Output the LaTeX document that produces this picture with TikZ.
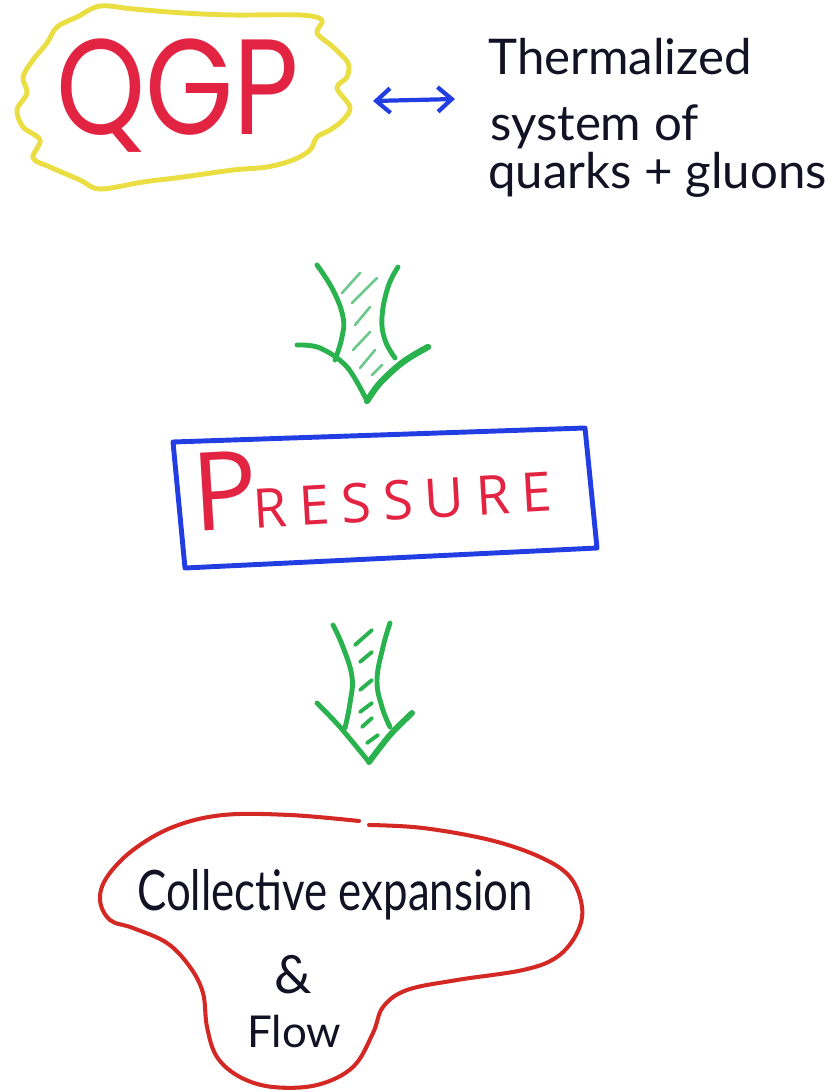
\documentclass[tikz,border=0pt]{standalone}
\usepackage{fontspec}
\setmainfont{Lato}
\newfontfamily\qgpfont{Poppins}
\newfontfamily\presfont{Open Sans}[LetterSpace=22]
\usetikzlibrary{arrows.meta}
\definecolor{yblob}{RGB}{234,222,66}
\definecolor{redtxt}{RGB}{226,36,66}
\definecolor{bluepen}{RGB}{34,62,226}
\definecolor{greenpen}{RGB}{42,178,78}
\definecolor{greenlight}{RGB}{110,200,140}
\definecolor{inkblack}{RGB}{18,18,36}
\definecolor{redblob}{RGB}{212,40,36}
\tikzset{
  yellowline/.style={draw=yblob, line width=2.8pt, line join=round},
  blueline/.style={draw=bluepen, line width=2.8pt, line join=round, line cap=round},
  redline/.style={draw=redblob, line width=2.3pt, line cap=round},
  greenline/.style={draw=greenpen, line width=2.8pt, line cap=round, line join=round},
  hatchA/.style={draw=greenlight, line width=1.5pt, line cap=round},
  hatchB/.style={draw=greenpen, line width=2.2pt, line cap=round},
  hand/.style={text=inkblack, inner sep=0pt},
  bluearrow/.style={draw=bluepen, line width=2.4pt, line cap=round,
    arrows={Straight Barb[length=8pt,width=14pt,line width=2.4pt]-Straight Barb[length=8pt,width=14pt,line width=2.4pt]}}
}
\begin{document}
\begin{tikzpicture}[x=0.02cm,y=-0.02cm]
\useasboundingbox (0,0) rectangle (839,1092);

% yellow wavy blob round QGP
\draw[yellowline] plot[smooth cycle, tension=0.55] coordinates {
 (100,6) (133,9) (183,13) (233,15) (300,15) (322,20) (317,33) (333,47)
 (348,63) (347,77) (337,88) (350,107) (343,120) (330,130) (317,137)
 (310,150) (293,160) (267,167) (233,170) (183,177) (143,182) (100,189)
 (80,180) (50,167) (33,158) (40,140) (23,127) (17,110) (27,93) (23,77)
 (33,60) (47,43) (57,27) (77,17)};
\node[text=redtxt, inner sep=0pt, anchor=base west] (qgp) at (56,134)
  {\scalebox{0.86}[1.03]{\qgpfont\fontsize{75}{75}\selectfont QGP}};

% blue double arrow
\coordinate (al) at (373,101);
\coordinate (ar) at (455,99);
\draw[bluearrow] (al) -- (ar);

% thermalized text
\node[hand, anchor=base west] (t1) at (488,74) {\fontsize{28}{28}\selectfont Thermalized};
\node[hand, anchor=base west] (t2) at (490,140) {\fontsize{28}{28}\selectfont system of};
\node[hand, anchor=base west] (t3) at (488,188) {\fontsize{28}{28}\selectfont quarks + gluons};

% green arrow 1
\draw[greenline] plot[smooth, tension=0.7] coordinates {(317,265) (333,290) (343,317) (342,337) (335,360)};
\draw[greenline] plot[smooth, tension=0.7] coordinates {(398,267) (388,287) (382,317) (385,340) (395,358)};
\draw[greenline] plot[smooth, tension=0.6] coordinates {(297,345) (320,348) (347,367) (367,401)};
\draw[greenline, line width=3.6pt] plot[smooth, tension=0.6] coordinates {(367,401) (380,383) (403,362) (428,347)};
\draw[hatchA] (342,293) -- (360,273);
\draw[hatchA] (352,303) -- (377,278);
\draw[hatchA] (355,325) -- (370,307);
\draw[hatchA] (353,350) -- (370,332);
\draw[hatchA] (360,368) -- (375,350);
\draw[hatchA] (372,375) -- (382,365);

% blue box with PRESSURE
\draw[blueline] (173,442) -- (585,428) -- (597,548) -- (185,568) -- cycle;
\node[text=redtxt, inner sep=0pt, anchor=base west, rotate=3.4] (pres) at (194,532)
  {\presfont\fontsize{62}{62}\selectfont P\hspace{-3pt}\fontsize{31}{31}\selectfont RESSURE};

% green arrow 2
\draw[greenline] plot[smooth, tension=0.7] coordinates {(333,625) (343,647) (352,677) (350,703) (345,728)};
\draw[greenline] plot[smooth, tension=0.7] coordinates {(390,623) (383,647) (377,680) (382,707) (390,727)};
\draw[greenline] plot[smooth, tension=0.5] coordinates {(317,703) (340,727) (369,762)};
\draw[greenline, line width=3.4pt] plot[smooth, tension=0.5] coordinates {(369,762) (390,735) (412,713)};
\draw[hatchB] (355,645) -- (372,630);
\draw[hatchB] (360,662) -- (372,652);
\draw[hatchB] (360,690) -- (372,680);
\draw[hatchB] (360,712) -- (372,703);
\draw[hatchB] (362,727) -- (372,718);
\draw[hatchB] (367,743) -- (378,735);

% red blob
\draw[redline] plot[smooth, tension=0.6] coordinates {
 (369,825) (423,828) (490,840) (540,857) (570,877) (582,907) (577,933)
 (557,957) (523,970) (457,980) (407,990) (383,1007) (373,1033) (353,1067)
 (317,1085) (273,1087) (240,1077) (217,1057) (207,1027) (203,993)
 (190,967) (167,943) (133,928) (110,920) (100,900) (107,877) (133,850)
 (173,827) (223,815) (290,815) (359,821)};
\node[hand, anchor=base west] (coll) at (137,910)
  {\scalebox{1.06}[1.35]{\fontsize{23.5}{23.5}\selectfont Collective expansion}};
\node[hand, anchor=base] (amp) at (293,993) {\fontsize{30}{30}\selectfont\&};
\node[hand, anchor=base west] (flow) at (247,1047) {\fontsize{25}{25}\selectfont Flow};
\end{tikzpicture}
\end{document}
